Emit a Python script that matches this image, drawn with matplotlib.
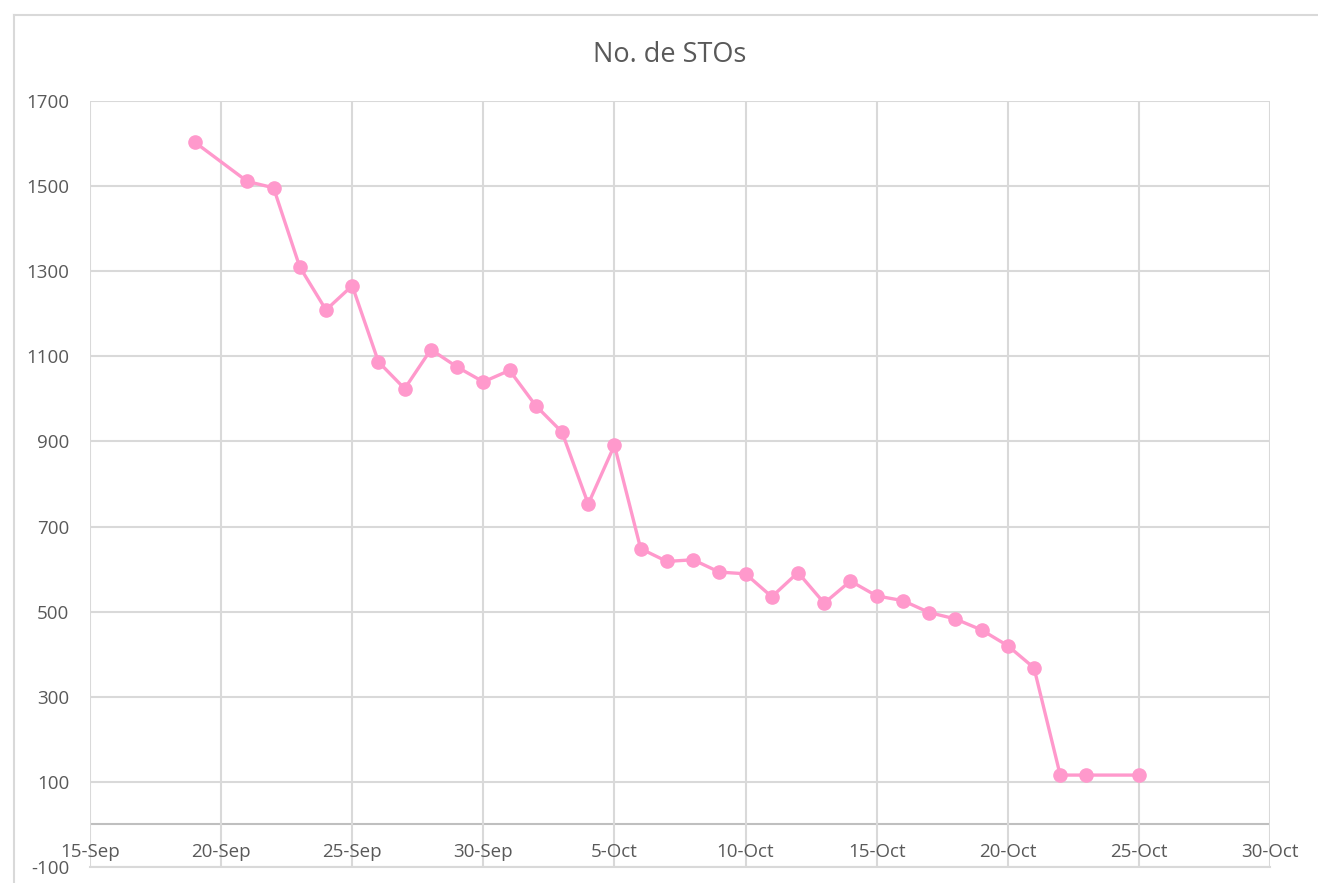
import datetime as dt
import matplotlib
matplotlib.use("Agg")
import matplotlib.pyplot as plt
import matplotlib.dates as mdates
from matplotlib.ticker import FuncFormatter

# daily count of STOs
dates = ["2023-09-19", "2023-09-21", "2023-09-22", "2023-09-23", "2023-09-24",
         "2023-09-25", "2023-09-26", "2023-09-27", "2023-09-28", "2023-09-29",
         "2023-09-30", "2023-10-01", "2023-10-02", "2023-10-03", "2023-10-04",
         "2023-10-05", "2023-10-06", "2023-10-07", "2023-10-08", "2023-10-09",
         "2023-10-10", "2023-10-11", "2023-10-12", "2023-10-13", "2023-10-14",
         "2023-10-15", "2023-10-16", "2023-10-17", "2023-10-18", "2023-10-19",
         "2023-10-20", "2023-10-21", "2023-10-22", "2023-10-23", "2023-10-25"]
stos = [1603, 1511, 1496, 1310, 1209,
        1266, 1087, 1024, 1116, 1075,
        1040, 1067, 984, 922, 753,
        891, 648, 618, 622, 593,
        589, 535, 592, 520, 572,
        537, 526, 498, 483, 457,
        420, 368, 116, 116, 116]

title = "No. de STOs"
x_start, x_end = "2023-09-15", "2023-10-30"

x = [dt.datetime.strptime(d, "%Y-%m-%d") for d in dates]
x0 = dt.datetime.strptime(x_start, "%Y-%m-%d")
x1 = dt.datetime.strptime(x_end, "%Y-%m-%d")

plt.rcParams["font.family"] = ["Open Sans", "DejaVu Sans"]
plt.rcParams["axes.unicode_minus"] = False
grid_c = "#d9d9d9"
text_c = "#595959"
pink = "#ff99cc"

W, H = 1318, 883
fig = plt.figure(figsize=(W / 100, H / 100), dpi=100)
ax = fig.add_axes([90 / W, 1 - 867 / H, (1270 - 90) / W, (867 - 101) / H])

# outer chart frame (top and left edges)
fig.add_artist(plt.Line2D([14 / W, 1.0], [1 - 15 / H, 1 - 15 / H], color=grid_c, lw=1.5))
fig.add_artist(plt.Line2D([14 / W, 14 / W], [0.0, 1 - 15 / H], color=grid_c, lw=1.5))

ax.plot(x, stos, color=pink, lw=2.4, marker="o", markersize=9.5, zorder=3)

ax.set_xlim(x0, x1)
ax.set_ylim(-100, 1700)
ax.set_yticks(range(-100, 1701, 200))
ax.xaxis.set_major_locator(mdates.DayLocator(bymonthday=[5, 10, 15, 20, 25, 30]))
ax.xaxis.set_major_formatter(FuncFormatter(
    lambda v, _: f"{mdates.num2date(v).day}-{mdates.num2date(v).strftime('%b')}"))

ax.grid(True, color=grid_c, lw=1.5, zorder=0)
ax.axhline(0, color="#bfbfbf", lw=1.5, zorder=1)
for side in ["top", "right", "left"]:
    ax.spines[side].set_visible(False)
ax.spines["bottom"].set_color(grid_c)
ax.spines["bottom"].set_linewidth(1.5)

ax.tick_params(axis="both", length=0, colors=text_c, labelsize=13.5)
ax.tick_params(axis="y", pad=15)
ax.tick_params(axis="x", pad=-17)

fig.text(670 / W, 1 - 55 / H, title, ha="center", va="center",
         fontsize=19.5, color=text_c)

fig.savefig("out.png", dpi=100)
